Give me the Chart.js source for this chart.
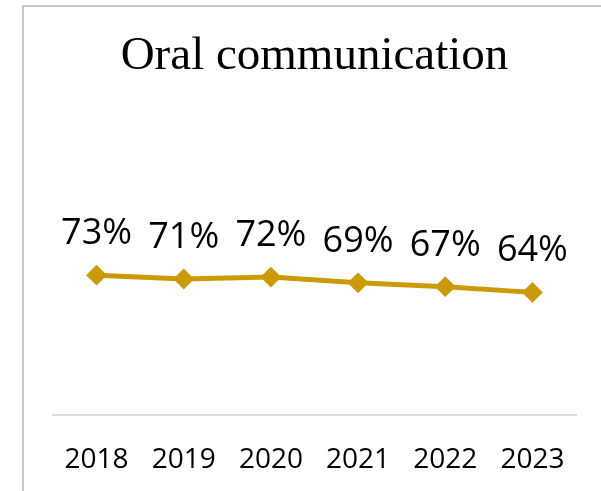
<!DOCTYPE html>
<html>
<head>
<meta charset="utf-8">
<script src="https://cdn.jsdelivr.net/npm/chart.js@4.4.1/dist/chart.umd.min.js"></script>
<style>
  html, body { margin: 0; padding: 0; background: #fff; }
  #wrap { position: relative; width: 601px; height: 491px; overflow: hidden; }
  #frame { position: absolute; left: 22px; top: 5px; width: 600px; height: 500px;
           border-left: 2px solid #c8c8c8; border-top: 2px solid #c8c8c8; }
  canvas { position: absolute; left: 0; top: 0; }
</style>
</head>
<body>
<div id="wrap">
  <div id="frame"></div>
  <canvas id="c" width="601" height="491"></canvas>
</div>
<script>
const titleText = "Oral communication";
const years = ["2018", "2019", "2020", "2021", "2022", "2023"];
const values = [73, 71, 72, 69, 67, 64];
const valueLabels = values.map(v => v + "%");

const lineColor = "#CC9A06";

const labelPlugin = {
  id: "pointLabels",
  afterDatasetsDraw(chart) {
    const ctx = chart.ctx;
    const meta = chart.getDatasetMeta(0);
    ctx.save();
    ctx.font = "36px 'Open Sans'";
    ctx.fillStyle = "#000";
    ctx.textAlign = "center";
    ctx.textBaseline = "alphabetic";
    meta.data.forEach((pt, i) => {
      ctx.fillText(valueLabels[i], pt.x, pt.y - 31);
    });
    ctx.restore();
  }
};

new Chart(document.getElementById("c"), {
  type: "line",
  data: {
    labels: years,
    datasets: [{
      data: values,
      borderColor: lineColor,
      backgroundColor: lineColor,
      borderWidth: 5,
      pointStyle: "rectRot",
      pointRadius: 9,
      pointBorderWidth: 2,
      pointBorderColor: lineColor,
      pointBackgroundColor: lineColor,
      tension: 0,
      fill: false
    }]
  },
  options: {
    responsive: false,
    animation: false,
    devicePixelRatio: 1,
    layout: { padding: { left: 53, right: 25, top: 0, bottom: 17 } },
    plugins: {
      legend: { display: false },
      tooltip: { enabled: false },
      title: {
        display: true,
        text: titleText,
        color: "#000",
        font: { family: "'Liberation Serif'", size: 47, weight: "normal", lineHeight: 1.2 },
        padding: { top: 28, bottom: 139 }
      }
    },
    scales: {
      x: {
        offset: true,
        grid: { display: false, drawTicks: false },
        border: { display: true, color: "#d9d9d9", width: 2 },
        ticks: {
          color: "#000",
          font: { family: "'Open Sans'", size: 28, lineHeight: 1.2 },
          padding: 28,
          maxRotation: 0,
          autoSkip: false
        },
        afterFit(scale) { scale.height = 59; }
      },
      y: {
        display: false,
        min: 0,
        max: 100
      }
    }
  },
  plugins: [labelPlugin]
});
</script>
</body>
</html>
